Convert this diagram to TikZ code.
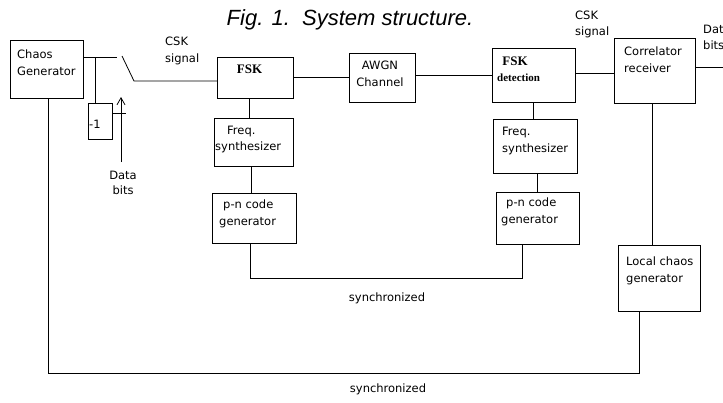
\documentclass[tikz,border=0pt]{standalone}
\usepackage{fontspec}
\setmainfont{DejaVu Sans}
\newfontfamily\titlefont{Liberation Sans}
\newfontfamily\serifb{Liberation Serif}
\usetikzlibrary{arrows.meta}

\begin{document}
\begin{tikzpicture}[x=1pt,y=-1pt,
  box/.style={draw, line width=0.8pt, inner sep=0pt, anchor=north west},
  wire/.style={line width=0.8pt},
  lbl/.style={inner sep=0pt, align=left, font=\fontsize{11.5}{17}\selectfont},
  serlbl/.style={inner sep=0pt, font=\serifb\bfseries\fontsize{13}{15}\selectfont},
]
\useasboundingbox (0,0) rectangle (723,402);

% title
\node[font=\titlefont\itshape\fontsize{22}{24}\selectfont, inner sep=0pt] (title) at (350,20) {Fig. 1.\ \ System structure.};

% boxes
\node[box, minimum width=73pt, minimum height=58pt] (chaos)  at (10,40)  {};
\node[box, minimum width=24pt, minimum height=36pt] (neg)    at (88,103) {};
\node[box, minimum width=76pt, minimum height=41pt] (fsk)    at (217,57) {};
\node[box, minimum width=66pt, minimum height=49pt] (awgn)   at (349,53) {};
\node[box, minimum width=83pt, minimum height=54pt] (fskdet) at (492,48) {};
\node[box, minimum width=81pt, minimum height=65pt] (corr)   at (614,38) {};
\node[box, minimum width=79pt, minimum height=48pt] (freqA)  at (214,118) {};
\node[box, minimum width=84pt, minimum height=50pt] (pnA)    at (212,193) {};
\node[box, minimum width=84pt, minimum height=54pt] (freqB)  at (493,119) {};
\node[box, minimum width=83pt, minimum height=52pt] (pnB)    at (496,192) {};
\node[box, minimum width=82pt, minimum height=66pt] (local)  at (618,245) {};

% labels
\node[lbl, anchor=west] (tchaos) at (17,63) {Chaos\\Generator};
\node[lbl, anchor=west] (tneg) at (89,124) {-1};
\node[lbl, anchor=west] (tcskA) at (165,51) {CSK\\signal};
\node[lbl, align=center, font=\fontsize{11.5}{15}\selectfont] (tdbA) at (123,183) {Data\\bits};
\node[serlbl] (tfsk) at (249.5,69) {FSK};
\node[lbl, align=center] (tawgn) at (380,74) {AWGN\\Channel};
\node[serlbl] (tfskd) at (515,61) {FSK};
\node[serlbl, anchor=west, font=\serifb\bfseries\fontsize{11}{13}\selectfont] (tdet) at (497,78) {detection};
\node[lbl, anchor=west] (tcorr) at (624,60) {Correlator\\receiver};
\node[lbl, anchor=west, font=\fontsize{11.5}{16}\selectfont] (tcskB) at (575,24) {CSK\\signal};
\node[lbl, anchor=west, font=\fontsize{11.5}{16}\selectfont] (tdbB) at (703,37) {Data\\bits};
\node[lbl, anchor=west] (tfreqA) at (215,139.5) {\hspace*{12pt}Freq.\\synthesizer};
\node[lbl, anchor=west] (tfreqB) at (502,141) {Freq.\\synthesizer};
\node[lbl, anchor=west] (tpnA) at (219,214) {\hspace*{4pt}p-n code\\generator};
\node[lbl, anchor=west] (tpnB) at (501,211.5) {\hspace*{5pt}p-n code\\generator};
\node[lbl, anchor=west] (tlocal) at (626,270.5) {Local chaos\\generator};
\node[lbl] (tsyncA) at (387,298) {synchronized};
\node[lbl] (tsyncB) at (388,389) {synchronized};

% helper coordinates
\coordinate (swA) at (117,57);
\coordinate (swP) at (122,56);
\coordinate (swB) at (134,81);
\coordinate (bx) at (95,0);
\coordinate (negE) at (126,113);
\coordinate (dbB) at (121,162);
\coordinate (dbT) at (121,97);
\coordinate (h2) at (0,77.5);
\coordinate (h3) at (0,75);
\coordinate (h4) at (0,73);
\coordinate (dout) at (723,67);
\coordinate (v1) at (249,0);
\coordinate (v2) at (251,0);
\coordinate (v3) at (250,0);
\coordinate (v4) at (522,0);
\coordinate (hs) at (0,278);
\coordinate (v5) at (533,0);
\coordinate (v6) at (537,0);
\coordinate (v7) at (652,0);
\coordinate (v8) at (639,0);
\coordinate (v9) at (48,0);
\coordinate (hb) at (0,373);

% connectors
\draw[wire] (chaos.east |- swA) -- (swA);
\draw[wire] (swP) -- (swB) -- (fsk.west |- swB);
\draw[wire] (bx |- swA) -- (bx |- neg.north);
\draw[wire] (neg.east |- negE) -- (negE);
\draw[wire, -{Straight Barb[length=7pt,width=8pt]}] (dbB) -- (dbT);
\draw[wire] (fsk.east |- h2) -- (awgn.west |- h2);
\draw[wire] (awgn.east |- h3) -- (fskdet.west |- h3);
\draw[wire] (fskdet.east |- h4) -- (corr.west |- h4);
\draw[wire] (corr.east |- dout) -- (dout);
\draw[wire] (v1 |- fsk.south) -- (v1 |- freqA.north);
\draw[wire] (v2 |- freqA.south) -- (v2 |- pnA.north);
\draw[wire] (v3 |- pnA.south) -- (v3 |- hs) -- (v4 |- hs) -- (v4 |- pnB.south);
\draw[wire] (v5 |- fskdet.south) -- (v5 |- freqB.north);
\draw[wire] (v6 |- freqB.south) -- (v6 |- pnB.north);
\draw[wire] (v7 |- corr.south) -- (v7 |- local.north);
\draw[wire] (v8 |- local.south) -- (v8 |- hb) -- (v9 |- hb) -- (v9 |- chaos.south);
\end{tikzpicture}
\end{document}
